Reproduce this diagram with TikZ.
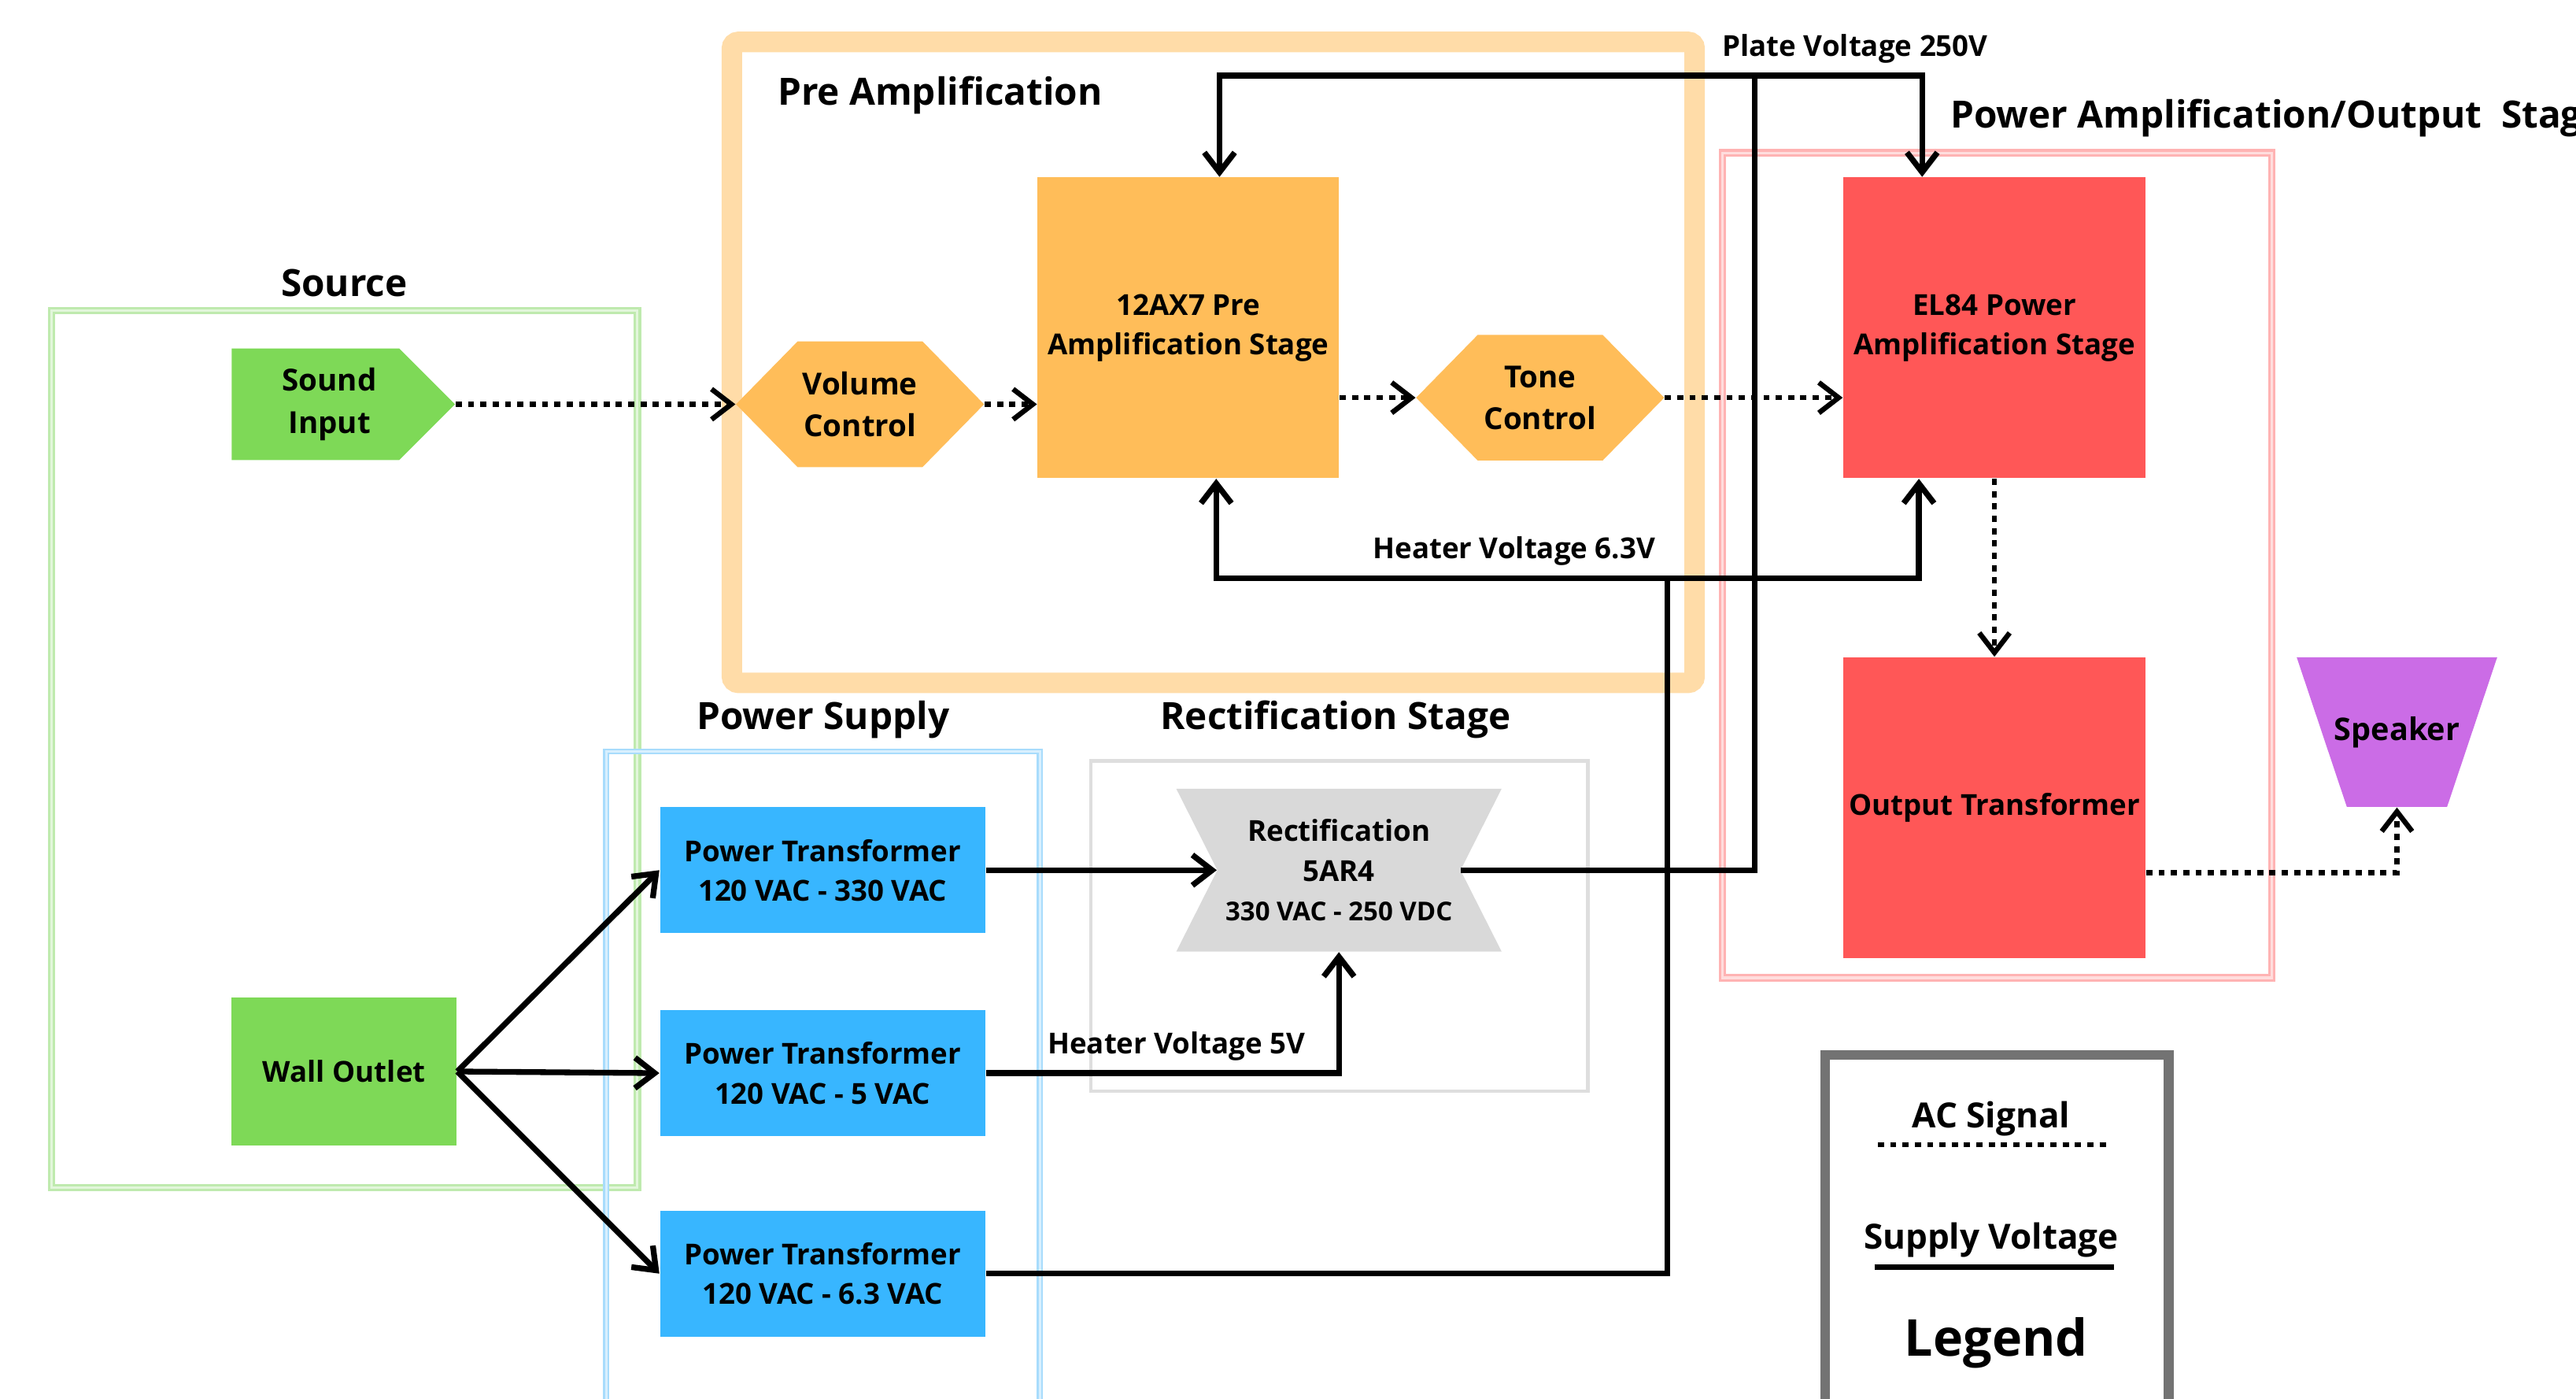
\documentclass[tikz,border=0pt]{standalone}
\usepackage{fontspec}
\setmainfont{Open Sans}
\usetikzlibrary{arrows.meta,positioning}

\definecolor{srcgreen}{HTML}{7ED957}
\definecolor{srcframe}{HTML}{BFEAAE}
\definecolor{orng}{HTML}{FFBD59}
\definecolor{orngframe}{HTML}{FFDCA8}
\definecolor{ampred}{HTML}{FF5757}
\definecolor{ampframe}{HTML}{FFB3B3}
\definecolor{psblue}{HTML}{38B6FF}
\definecolor{psframe}{HTML}{A8DCFC}
\definecolor{rcgray}{HTML}{D9D9D9}
\definecolor{rcframe}{HTML}{DEDEDE}
\definecolor{spkpurple}{HTML}{CB6CE6}
\definecolor{legframe}{HTML}{737373}

\tikzset{
  blk/.style={inner sep=0pt, align=center, font=\bfseries\fontsize{10}{13.7}\selectfont},
  title/.style={inner sep=0pt, font=\bfseries\fontsize{13}{16}\selectfont},
  lbl/.style={inner sep=1.2mm, font=\bfseries\fontsize{10}{12}\selectfont},
  acsig/.style={line width=0.62mm, dash pattern=on 0.75mm off 0.75mm},
  supply/.style={line width=0.7mm},
  srcbox/.style={blk, fill=srcgreen, minimum width=27.4mm, minimum height=18mm},
  ptbox/.style={blk, fill=psblue, minimum width=39.6mm, minimum height=15.3mm},
  prebox/.style={blk, fill=orng, minimum width=36.7mm, minimum height=36.6mm},
  pabox/.style={blk, fill=ampred, minimum width=36.8mm, minimum height=36.6mm},
  sig/.style={blk, font=\bfseries\fontsize{10.5}{14.6}\selectfont,
    minimum width=27.2mm, minimum height=13.6mm,
    path picture={\fill[srcgreen] (path picture bounding box.north west)
      -- ([xshift=-6.8mm]path picture bounding box.north east)
      -- (path picture bounding box.east)
      -- ([xshift=-6.8mm]path picture bounding box.south east)
      -- (path picture bounding box.south west) -- cycle;}},
  hexa/.style={blk, font=\bfseries\fontsize{10.5}{14.4}\selectfont,
    minimum width=30.2mm, minimum height=15.3mm,
    path picture={\fill[orng] (path picture bounding box.west)
      -- ([xshift=7.5mm]path picture bounding box.north west)
      -- ([xshift=-7.5mm]path picture bounding box.north east)
      -- (path picture bounding box.east)
      -- ([xshift=-7.5mm]path picture bounding box.south east)
      -- ([xshift=7.5mm]path picture bounding box.south west) -- cycle;}},
  hglass/.style={blk, minimum width=39.6mm, minimum height=19.8mm,
    path picture={\fill[rcgray] (path picture bounding box.north west)
      -- (path picture bounding box.north east)
      -- ([xshift=-5mm]path picture bounding box.east)
      -- (path picture bounding box.south east)
      -- (path picture bounding box.south west)
      -- ([xshift=5mm]path picture bounding box.west) -- cycle;}},
  spkr/.style={blk, font=\bfseries\fontsize{10.8}{13}\selectfont,
    minimum width=24.4mm, minimum height=18.2mm,
    path picture={\fill[spkpurple] (path picture bounding box.north west)
      -- (path picture bounding box.north east)
      -- ([xshift=-6.1mm]path picture bounding box.south east)
      -- ([xshift=6.1mm]path picture bounding box.south west) -- cycle;}},
}

\begin{document}
\begin{tikzpicture}[x=0.2mm, y=-0.2mm, >={Straight Barb[length=2.4mm,width=3.7mm]}]
\useasboundingbox (0,0) rectangle (1568,851);

% group frames
\draw[srcframe, line width=0.3mm, double=srcframe!45, double distance=0.3mm] (31.5,189) rectangle (388,722.8);
\draw[psframe, line width=0.25mm, double=psframe!45, double distance=0.25mm] (369,457.3) rectangle (633,900);
\draw[rcframe, line width=0.45mm] (664,463) rectangle (966.5,664);
\draw[orngframe, line width=2.5mm, rounded corners=0.8mm] (445.5,25.5) rectangle (1031.5,415.5);
\draw[ampframe, line width=0.3mm, double=ampframe!45, double distance=0.3mm] (1048.5,93) rectangle (1382.7,595);
\draw[legframe, line width=1.2mm] (1111,642) rectangle (1320,900);

% group titles
\node[title] (srct) at (209.5,172) {Source};
\node[title, anchor=west] (pret) at (473,58) {Pre Amplification};
\node[title] (pst) at (501,438) {Power Supply};
\node[title] (rct) at (813,438) {Rectification Stage};
\node[title, anchor=west] (pat) at (1187,72) {Power Amplification/Output~~Stage};

% blocks
\node[sig] (snd) at (209,246) {Sound\hspace*{3.4mm}\\Input\hspace*{3.4mm}};
\node[srcbox] (wall) at (209.5,652) {Wall Outlet};
\node[hexa] (vol) at (523.5,246) {Volume\\Control};
\node[prebox] (pre) at (723.3,199.5) {12AX7 Pre\\Amplification Stage};
\node[hexa] (tone) at (937.5,242) {Tone\\Control};
\node[pabox] (el) at (1214,199.5) {EL84 Power\\Amplification Stage};
\node[pabox] (ot) at (1214,491.5) {Output Transformer};
\node[spkr] (spk) at (1459,445.5) {Speaker};
\node[ptbox] (pt1) at (500.7,529.5) {Power Transformer\\120 VAC - 330 VAC};
\node[ptbox] (pt2) at (500.7,653) {Power Transformer\\120 VAC - 5 VAC};
\node[ptbox] (pt3) at (500.7,775) {Power Transformer\\120 VAC - 6.3 VAC};
\node[hglass] (rect) at (815,529.5) {Rectification\\5AR4\\{\fontsize{9}{12}\selectfont 330 VAC - 250 VDC}};

% AC signal
\draw[acsig, ->] (snd.east) -- (vol.west);
\draw[acsig, ->] (vol.east) -- (vol.east -| pre.west);
\draw[acsig, ->] (pre.east |- tone.west) -- (tone.west);
\draw[acsig, ->] (tone.east) -- (tone.east -| el.west);
\draw[acsig, ->] (el.south) -- (ot.north);
\draw[acsig, ->] ([yshift=-7.9mm]ot.east) -| (spk.south);

% supply voltages
\draw[supply, ->] (wall.east) -- (pt1.west);
\draw[supply, ->] (wall.east) -- (pt2.west);
\draw[supply, ->] (wall.east) -- (pt3.west);
\draw[supply, ->] (pt1.east) -- ([xshift=5mm]rect.west);
\draw[supply, ->] (pt2.east) -| node[lbl, above, pos=.27] (h5) {Heater Voltage 5V} (rect.south);

\coordinate (plate) at (1068,46);
\draw[supply] ([xshift=-5mm]rect.east) -| (plate);
\draw[supply, ->] (plate) -| ([xshift=3.8mm]pre.north);
\draw[supply, ->] (plate) -| node[lbl, above, pos=.3] (pv) {Plate Voltage 250V} ([xshift=-8.8mm]el.north);

\coordinate (heat) at (1015,352);
\draw[supply] (pt3.east) -| (heat);
\draw[supply, ->] (heat) -| node[lbl, above, pos=.17] (hv) {Heater Voltage 6.3V} ([xshift=3.4mm]pre.south);
\draw[supply, ->] (heat) -| ([xshift=-9.2mm]el.south);

% legend
\node[title, font=\bfseries\fontsize{12}{14}\selectfont] (acl) at (1212,681) {AC Signal};
\draw[acsig] (1143,696.6) -- (1284,696.6);
\node[title, font=\bfseries\fontsize{12}{14}\selectfont] (svl) at (1212,754.6) {Supply Voltage};
\draw[supply] (1141,771) -- (1287,771);
\node[title, font=\bfseries\fontsize{17.6}{20}\selectfont] (leg) at (1215,817) {Legend};
\end{tikzpicture}
\end{document}
